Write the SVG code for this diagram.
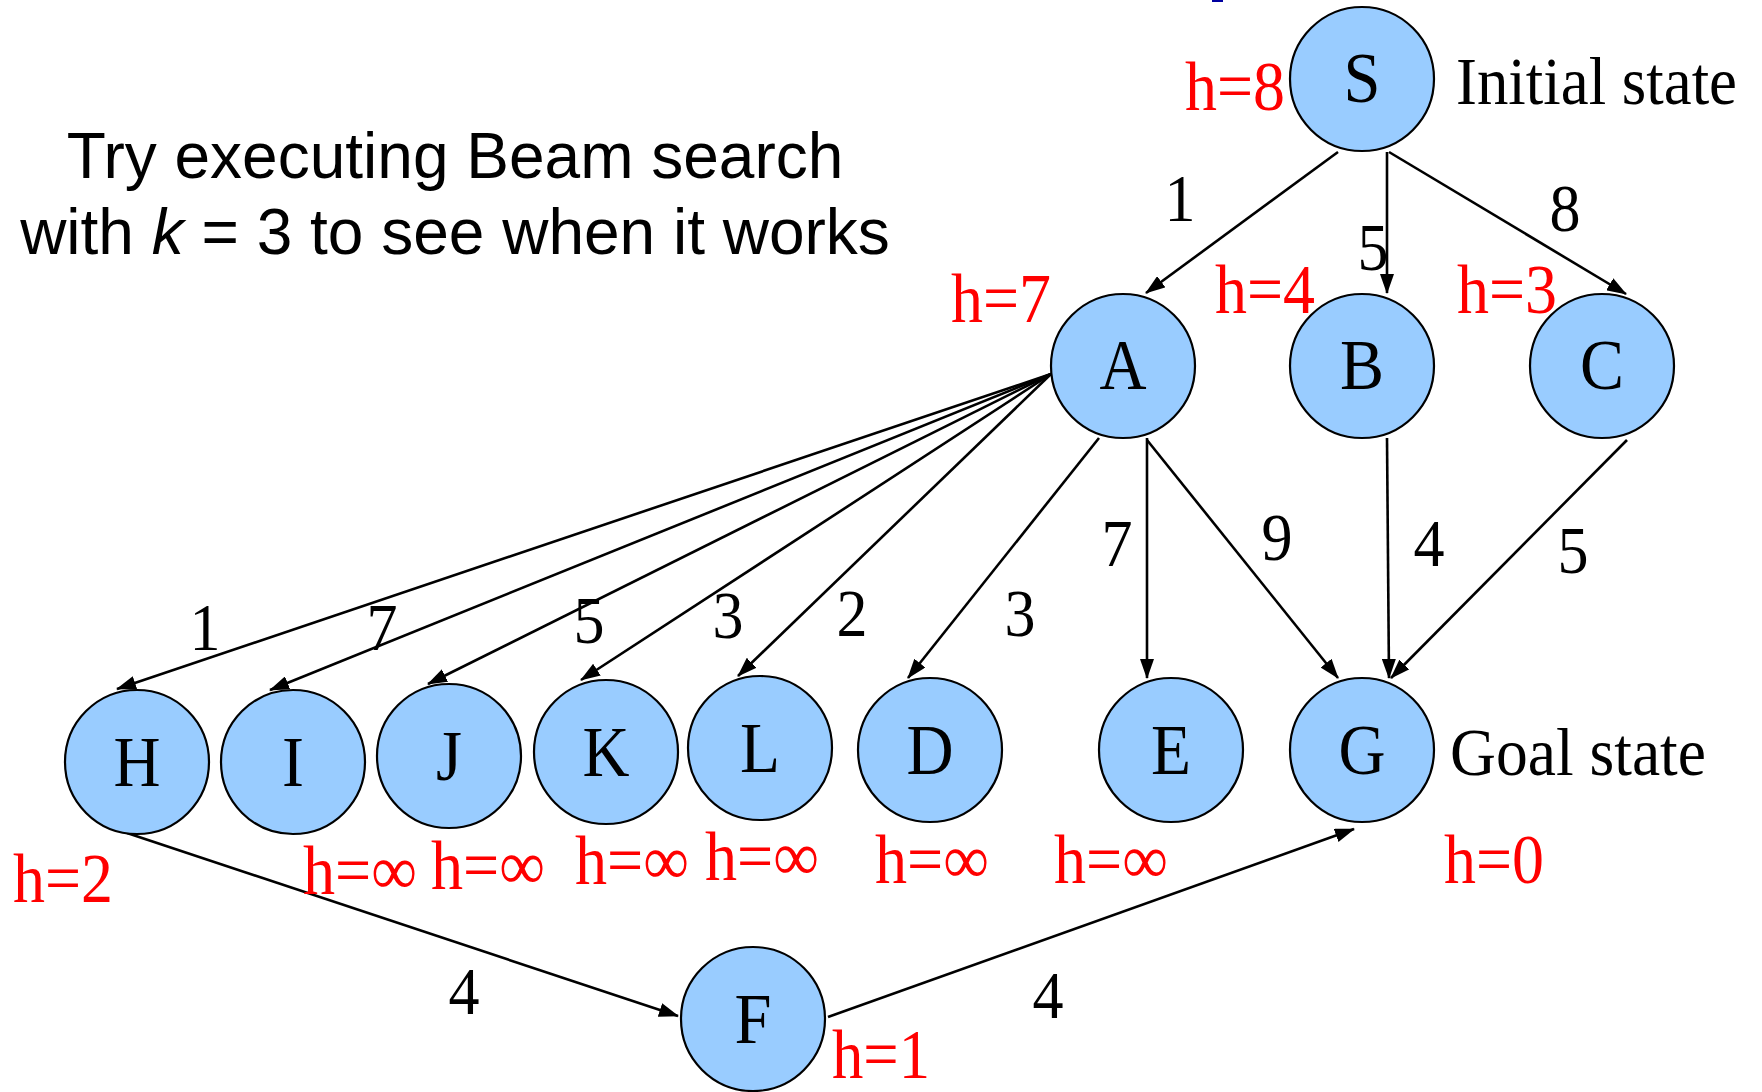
<svg xmlns="http://www.w3.org/2000/svg" width="1762" height="1092" viewBox="0 0 1762 1092">
<defs>
<style>
.node{fill:#99CCFF;stroke:#000;stroke-width:2.2}
.lbl{font-family:"Liberation Serif","Times New Roman",serif;font-size:72px;fill:#000;text-anchor:middle}
.h{font-family:"Liberation Serif","Times New Roman",serif;font-size:70px;fill:#FF0000}
.w{font-family:"Liberation Serif","Times New Roman",serif;font-size:68px;fill:#000;text-anchor:middle}
.note{font-family:"Liberation Serif","Times New Roman",serif;font-size:68px;fill:#000}
.title{font-family:"Liberation Sans",Arial,sans-serif;font-size:64px;fill:#000;text-anchor:middle}
.edge{stroke:#000;stroke-width:2.6;fill:none;marker-end:url(#arr)}
</style>
<marker id="arr" viewBox="0 0 20 14" refX="19" refY="7" markerWidth="20" markerHeight="14" markerUnits="userSpaceOnUse" orient="auto">
<path d="M0,0 L20,7 L0,14 z" fill="#000"/>
</marker>
</defs>
<rect width="1762" height="1092" fill="#fff"/>
<rect x="1212" y="0" width="11" height="2" fill="#0000A0"/>

<g class="title">
<text x="455" y="178">Try executing Beam search</text>
<text x="455" y="254">with <tspan font-style="italic">k</tspan> = 3 to see when it works</text>
</g>

<g id="connectors">
<line class="edge" x1="1338" y1="152" x2="1146" y2="293"/>
<line class="edge" x1="1387" y1="152" x2="1387" y2="293"/>
<line class="edge" x1="1389" y1="152" x2="1626" y2="294"/>
<line class="edge" x1="1051" y1="374" x2="117" y2="689"/>
<line class="edge" x1="1051" y1="374" x2="270" y2="690"/>
<line class="edge" x1="1051" y1="374" x2="428" y2="684"/>
<line class="edge" x1="1051" y1="374" x2="581" y2="680"/>
<line class="edge" x1="1051" y1="374" x2="738" y2="676"/>
<line class="edge" x1="1099" y1="438" x2="908" y2="678"/>
<line class="edge" x1="1147" y1="438" x2="1147" y2="678"/>
<line class="edge" x1="1147" y1="440" x2="1338" y2="678"/>
<line class="edge" x1="1387" y1="438" x2="1389" y2="678"/>
<line class="edge" x1="1627" y1="440" x2="1391" y2="678"/>
<line class="edge" x1="127" y1="833" x2="678" y2="1016"/>
<line class="edge" x1="828" y1="1017" x2="1354" y2="829"/>
</g>

<g id="edge-weights" class="w">
<text x="1180" y="221" textLength="31" lengthAdjust="spacingAndGlyphs">1</text>
<text x="1373" y="270" textLength="31" lengthAdjust="spacingAndGlyphs">5</text>
<text x="1565" y="231" textLength="31" lengthAdjust="spacingAndGlyphs">8</text>
<text x="205" y="650" textLength="31" lengthAdjust="spacingAndGlyphs">1</text>
<text x="382" y="650" textLength="31" lengthAdjust="spacingAndGlyphs">7</text>
<text x="589" y="643" textLength="31" lengthAdjust="spacingAndGlyphs">5</text>
<text x="728" y="638" textLength="31" lengthAdjust="spacingAndGlyphs">3</text>
<text x="852" y="636" textLength="31" lengthAdjust="spacingAndGlyphs">2</text>
<text x="1020" y="636" textLength="31" lengthAdjust="spacingAndGlyphs">3</text>
<text x="1117" y="566" textLength="31" lengthAdjust="spacingAndGlyphs">7</text>
<text x="1277" y="560" textLength="31" lengthAdjust="spacingAndGlyphs">9</text>
<text x="1429" y="566" textLength="31" lengthAdjust="spacingAndGlyphs">4</text>
<text x="1573" y="573" textLength="31" lengthAdjust="spacingAndGlyphs">5</text>
<text x="464" y="1014" textLength="31" lengthAdjust="spacingAndGlyphs">4</text>
<text x="1048" y="1018" textLength="31" lengthAdjust="spacingAndGlyphs">4</text>
</g>

<g id="node-S"><circle class="node" cx="1362" cy="79" r="72"/><text class="lbl" x="1362" y="102" textLength="37" lengthAdjust="spacingAndGlyphs">S</text></g>
<g id="node-A"><circle class="node" cx="1123" cy="366" r="72"/><text class="lbl" x="1123" y="389" textLength="47" lengthAdjust="spacingAndGlyphs">A</text></g>
<g id="node-B"><circle class="node" cx="1362" cy="366" r="72"/><text class="lbl" x="1362" y="389" textLength="44" lengthAdjust="spacingAndGlyphs">B</text></g>
<g id="node-C"><circle class="node" cx="1602" cy="366" r="72"/><text class="lbl" x="1602" y="389" textLength="44" lengthAdjust="spacingAndGlyphs">C</text></g>
<g id="node-H"><circle class="node" cx="137" cy="762" r="72"/><text class="lbl" x="137" y="786" textLength="47" lengthAdjust="spacingAndGlyphs">H</text></g>
<g id="node-I"><circle class="node" cx="293" cy="762" r="72"/><text class="lbl" x="293" y="786" textLength="22" lengthAdjust="spacingAndGlyphs">I</text></g>
<g id="node-J"><circle class="node" cx="449" cy="756" r="72"/><text class="lbl" x="449" y="780" textLength="26" lengthAdjust="spacingAndGlyphs">J</text></g>
<g id="node-K"><circle class="node" cx="606" cy="752" r="72"/><text class="lbl" x="606" y="776" textLength="47" lengthAdjust="spacingAndGlyphs">K</text></g>
<g id="node-L"><circle class="node" cx="760" cy="748" r="72"/><text class="lbl" x="760" y="772" textLength="40" lengthAdjust="spacingAndGlyphs">L</text></g>
<g id="node-D"><circle class="node" cx="930" cy="750" r="72"/><text class="lbl" x="930" y="774" textLength="47" lengthAdjust="spacingAndGlyphs">D</text></g>
<g id="node-E"><circle class="node" cx="1171" cy="750" r="72"/><text class="lbl" x="1171" y="774" textLength="40" lengthAdjust="spacingAndGlyphs">E</text></g>
<g id="node-G"><circle class="node" cx="1362" cy="750" r="72"/><text class="lbl" x="1362" y="774" textLength="47" lengthAdjust="spacingAndGlyphs">G</text></g>
<g id="node-F"><circle class="node" cx="753" cy="1019" r="72"/><text class="lbl" x="753" y="1043" textLength="37" lengthAdjust="spacingAndGlyphs">F</text></g>

<g id="state-notes" class="note">
<text x="1456" y="104" textLength="281" lengthAdjust="spacingAndGlyphs">Initial state</text>
<text x="1450" y="775" textLength="256" lengthAdjust="spacingAndGlyphs">Goal state</text>
</g>

<g id="heuristics" class="h">
<text x="1185" y="110" textLength="100" lengthAdjust="spacingAndGlyphs">h=8</text>
<text x="951" y="322" textLength="100" lengthAdjust="spacingAndGlyphs">h=7</text>
<text x="1215" y="313" textLength="100" lengthAdjust="spacingAndGlyphs">h=4</text>
<text x="1457" y="313" textLength="100" lengthAdjust="spacingAndGlyphs">h=3</text>
<text x="13" y="902" textLength="100" lengthAdjust="spacingAndGlyphs">h=2</text>
<text x="303" y="894" textLength="114" lengthAdjust="spacingAndGlyphs">h=∞</text>
<text x="431" y="889" textLength="114" lengthAdjust="spacingAndGlyphs">h=∞</text>
<text x="575" y="884" textLength="114" lengthAdjust="spacingAndGlyphs">h=∞</text>
<text x="705" y="880" textLength="114" lengthAdjust="spacingAndGlyphs">h=∞</text>
<text x="875" y="883" textLength="114" lengthAdjust="spacingAndGlyphs">h=∞</text>
<text x="1054" y="883" textLength="114" lengthAdjust="spacingAndGlyphs">h=∞</text>
<text x="1444" y="883" textLength="100" lengthAdjust="spacingAndGlyphs">h=0</text>
<text x="832" y="1078" textLength="98" lengthAdjust="spacingAndGlyphs">h=1</text>
</g>
</svg>
